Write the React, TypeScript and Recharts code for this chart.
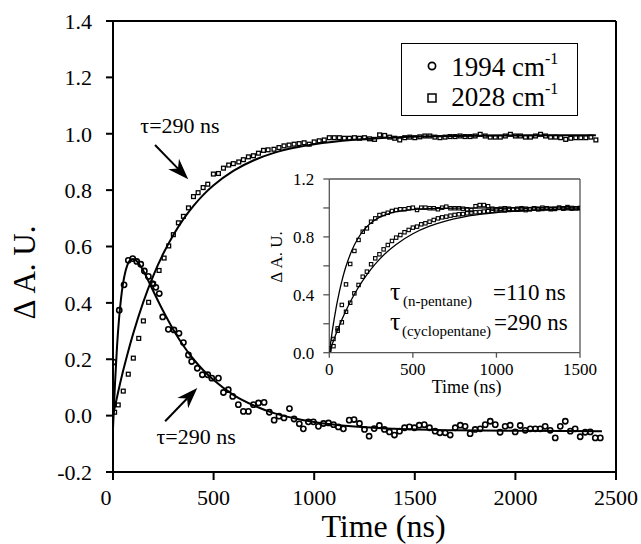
import React from 'react';
import { ComposedChart, Scatter, Line, XAxis, YAxis, ReferenceLine, ReferenceDot, Legend } from 'recharts';

const FONT = 'Liberation Serif';

// ---------- main panel data ----------
const seriesNames = ['1994', '2028'];

const circleTimes = [3, 31, 55, 76, 98, 118, 138, 156, 176, 196, 213, 230, 247, 275, 303, 328, 350, 375, 391, 419, 444, 471, 491, 524, 549, 573, 595, 623, 648, 673, 698, 723, 751, 777, 801, 825, 850, 877, 900, 926, 946, 971, 996, 1021, 1046, 1071, 1096, 1120, 1145, 1174, 1198, 1225, 1250, 1273, 1298, 1324, 1349, 1374, 1399, 1424, 1449, 1473, 1498, 1522, 1547, 1573, 1601, 1625, 1651, 1676, 1701, 1726, 1750, 1775, 1800, 1825, 1850, 1875, 1900, 1924, 1949, 1974, 1999, 2024, 2049, 2074, 2099, 2123, 2148, 2173, 2198, 2223, 2248, 2273, 2297, 2322, 2347, 2372, 2397, 2422];
const circleValues = [0.19, 0.374, 0.464, 0.551, 0.557, 0.547, 0.537, 0.513, 0.494, 0.468, 0.455, 0.433, 0.35, 0.306, 0.304, 0.292, 0.259, 0.215, 0.192, 0.168, 0.145, 0.145, 0.133, 0.133, 0.082, 0.092, 0.068, 0.039, 0.015, 0.015, 0.039, 0.045, 0.047, 0.012, -0.016, -0.002, -0.008, 0.025, -0.012, -0.029, -0.047, -0.022, -0.022, -0.038, -0.028, -0.026, -0.032, -0.04, -0.047, -0.016, -0.014, -0.028, -0.049, -0.073, -0.046, -0.035, -0.049, -0.058, -0.069, -0.055, -0.043, -0.04, -0.043, -0.034, -0.032, -0.043, -0.055, -0.061, -0.061, -0.069, -0.043, -0.034, -0.038, -0.064, -0.049, -0.047, -0.032, -0.02, -0.032, -0.059, -0.038, -0.034, -0.058, -0.035, -0.052, -0.047, -0.047, -0.047, -0.038, -0.052, -0.079, -0.038, -0.02, -0.055, -0.047, -0.075, -0.059, -0.058, -0.079, -0.079];

const squareTimes = [8, 26, 51, 76, 101, 128, 151, 177, 202, 229, 254, 277, 300, 325, 350, 375, 400, 423, 448, 471, 499, 524, 549, 575, 598, 625, 648, 673, 698, 723, 748, 771, 800, 825, 850, 875, 900, 925, 950, 975, 1000, 1025, 1050, 1075, 1100, 1125, 1150, 1175, 1200, 1225, 1250, 1275, 1300, 1325, 1350, 1375, 1400, 1425, 1450, 1475, 1500, 1525, 1550, 1575, 1600, 1625, 1650, 1675, 1700, 1725, 1750, 1775, 1800, 1825, 1850, 1875, 1900, 1925, 1950, 1975, 2000, 2025, 2050, 2075, 2100, 2125, 2150, 2175, 2200, 2225, 2250, 2275, 2300, 2325, 2350, 2375, 2400];
const squareValues = [0.012, 0.038, 0.087, 0.147, 0.204, 0.274, 0.336, 0.402, 0.467, 0.515, 0.559, 0.602, 0.642, 0.684, 0.707, 0.737, 0.777, 0.791, 0.809, 0.821, 0.857, 0.859, 0.878, 0.889, 0.894, 0.9, 0.908, 0.918, 0.922, 0.931, 0.941, 0.943, 0.945, 0.951, 0.957, 0.96, 0.963, 0.965, 0.968, 0.963, 0.971, 0.975, 0.978, 0.986, 0.986, 0.986, 0.984, 0.984, 0.986, 0.984, 0.986, 0.982, 0.98, 0.996, 0.994, 0.988, 0.984, 0.978, 0.986, 0.988, 0.986, 0.989, 0.992, 0.992, 0.988, 0.986, 0.988, 0.99, 0.99, 0.992, 0.99, 0.99, 0.992, 0.998, 0.992, 0.988, 0.988, 0.988, 0.992, 0.998, 0.992, 0.992, 0.988, 0.988, 0.992, 0.998, 0.992, 0.988, 0.988, 0.986, 0.98, 0.984, 0.986, 0.986, 0.986, 0.988, 0.978];

const circleFitTimes = [0, 10, 20, 30, 40, 50, 60, 70, 80, 90, 100, 120, 140, 160, 180, 200, 250, 300, 350, 400, 450, 500, 600, 700, 800, 900, 1000, 1200, 1400, 1700, 2000, 2430];
const circleFitValues = [-0.045, 0.115, 0.245, 0.343, 0.416, 0.469, 0.506, 0.531, 0.547, 0.554, 0.556, 0.547, 0.527, 0.501, 0.472, 0.442, 0.37, 0.305, 0.248, 0.2, 0.16, 0.126, 0.073, 0.036, 0.009, -0.009, -0.023, -0.039, -0.047, -0.052, -0.054, -0.055];

const squareFitTimes = [0, 25, 50, 75, 100, 150, 200, 250, 300, 350, 400, 450, 500, 600, 700, 800, 900, 1000, 1200, 1400, 1600, 2000, 2400];
const squareFitValues = [0, 0.082, 0.158, 0.227, 0.29, 0.402, 0.496, 0.575, 0.641, 0.697, 0.744, 0.784, 0.817, 0.869, 0.906, 0.932, 0.95, 0.963, 0.979, 0.987, 0.991, 0.994, 0.995];

const mainXTicks = [0, 500, 1000, 1500, 2000, 2500];
const mainYTicks = [-0.2, 0, 0.2, 0.4, 0.6, 0.8, 1.0, 1.2, 1.4];

// ---------- inset data ----------
const insetTimes = [0, 25, 50, 75, 100, 125, 150, 175, 200, 225, 250, 275, 300, 325, 350, 375, 400, 425, 450, 475, 500, 525, 550, 575, 600, 625, 650, 675, 700, 725, 750, 775, 800, 825, 850, 875, 900, 925, 950, 975, 1000, 1025, 1050, 1075, 1100, 1125, 1150, 1175, 1200, 1225, 1250, 1275, 1300, 1325, 1350, 1375, 1400, 1425, 1450, 1475, 1500];
const nPentaneValues = [0.02, 0.045, 0.168, 0.33, 0.472, 0.613, 0.703, 0.779, 0.836, 0.859, 0.905, 0.928, 0.951, 0.958, 0.967, 0.979, 0.986, 0.991, 0.991, 0.998, 1.002, 0.986, 1.002, 1.002, 0.998, 0.998, 0.991, 1.002, 1.009, 0.998, 0.998, 0.998, 0.995, 0.991, 0.986, 1.012, 1.02, 1.02, 1.012, 0.995, 0.991, 0.995, 0.998, 0.995, 0.991, 0.995, 0.998, 0.995, 0.991, 0.998, 0.995, 1.002, 0.998, 0.991, 0.995, 1.002, 0.998, 1.006, 0.995, 0.998, 1.0];
const cyclopentaneValues = [0.03, 0.095, 0.152, 0.21, 0.283, 0.345, 0.41, 0.468, 0.525, 0.56, 0.611, 0.652, 0.68, 0.714, 0.744, 0.772, 0.795, 0.813, 0.832, 0.848, 0.864, 0.871, 0.887, 0.894, 0.905, 0.917, 0.928, 0.935, 0.94, 0.947, 0.952, 0.956, 0.958, 0.963, 0.968, 0.97, 0.972, 0.975, 0.978, 0.98, 0.982, 0.985, 0.983, 0.987, 0.99, 0.988, 0.99, 0.985, 0.992, 0.995, 0.99, 0.993, 0.998, 0.995, 0.993, 1.0, 0.995, 0.998, 1.0, 0.998, 0.998];

const nPentaneFitTimes = [0, 10, 20, 30, 40, 50, 60, 75, 90, 100, 125, 150, 175, 200, 250, 300, 350, 400, 500, 600, 800, 1000, 1500];
const nPentaneFitValues = [0, 0.087, 0.166, 0.239, 0.305, 0.365, 0.42, 0.494, 0.559, 0.597, 0.679, 0.744, 0.796, 0.838, 0.897, 0.935, 0.958, 0.974, 0.989, 0.996, 0.999, 1.0, 1.0];
const cycloFitTimes = [0, 25, 50, 75, 100, 150, 200, 250, 300, 350, 400, 500, 600, 700, 800, 900, 1000, 1200, 1500];
const cycloFitValues = [0, 0.083, 0.158, 0.228, 0.292, 0.404, 0.498, 0.578, 0.645, 0.701, 0.748, 0.822, 0.874, 0.911, 0.937, 0.955, 0.968, 0.984, 0.994];

const insetXTicks = [0, 500, 1000, 1500];
const insetYTicks = [0, 0.2, 0.4, 0.6, 0.8, 1.0, 1.2];

const toPts = (ts: number[], vs: number[]) => ts.map((t, i) => ({ t, v: vs[i] }));

const circles = toPts(circleTimes, circleValues);
const squares = toPts(squareTimes, squareValues);
const circleFit = toPts(circleFitTimes, circleFitValues);
const squareFit = toPts(squareFitTimes, squareFitValues);
const nPentane = toPts(insetTimes, nPentaneValues);
const cyclopentane = toPts(insetTimes, cyclopentaneValues);
const nPentaneFit = toPts(nPentaneFitTimes, nPentaneFitValues);
const cycloFit = toPts(cycloFitTimes, cycloFitValues);

// ---------- marks ----------
const CircleMark = (p: any) => (
  <circle cx={p.cx} cy={p.cy} r={2.6} fill="none" stroke="#000" strokeWidth={1.6} />
);
const SquareMark = (p: any) => (
  <rect x={p.cx - 1.9} y={p.cy - 1.9} width={3.8} height={3.8} fill="none" stroke="#000" strokeWidth={1.3} />
);
const SmallSquare = (p: any) => (
  <rect x={p.cx - 1.7} y={p.cy - 1.7} width={3.4} height={3.4} fill="none" stroke="#000" strokeWidth={1.1} />
);

const ArrowShape = (p: any) => {
  const { x1, y1, x2, y2 } = p;
  const dx = x2 - x1;
  const dy = y2 - y1;
  const len = Math.hypot(dx, dy) || 1;
  const ux = dx / len;
  const uy = dy / len;
  const hl = 21;
  const hw = 7.5;
  const bx = x2 - ux * hl;
  const by = y2 - uy * hl;
  const nx = x2 - ux * hl * 0.7;
  const ny = y2 - uy * hl * 0.7;
  return (
    <g>
      <line x1={x1} y1={y1} x2={nx} y2={ny} stroke="#000" strokeWidth={2} />
      <polygon
        points={`${x2},${y2} ${bx - uy * hw},${by + ux * hw} ${nx},${ny} ${bx + uy * hw},${by - ux * hw}`}
        fill="#000"
      />
    </g>
  );
};

const T = (props: any) => <text fontFamily={FONT} fill="#000" {...props} />;

const tauText = (p: any) => {
  const vb = p.viewBox || {};
  const x = vb.x + (vb.width || 0) / 2;
  const y = vb.y + (vb.height || 0) / 2;
  return (
    <T x={x} y={y} textAnchor="middle" fontSize={22}>
      τ=290 ns
    </T>
  );
};

const InsetNote = (p: any) => {
  const vb = p.viewBox || {};
  const x = vb.x + (vb.width || 0) / 2;
  const y = vb.y + (vb.height || 0) / 2;
  return (
    <g>
      <T x={x} y={y} fontSize={26}>τ</T>
      <T x={x + 13} y={y + 6} fontSize={15}>(n-pentane)</T>
      <T x={x + 103} y={y} fontSize={23}>=110 ns</T>
      <T x={x} y={y + 30} fontSize={26}>τ</T>
      <T x={x + 12} y={y + 36} fontSize={15}>(cyclopentane)</T>
      <T x={x + 104} y={y + 30} fontSize={23}>=290 ns</T>
    </g>
  );
};

const MainXTick = (p: any) => {
  const v = p.payload?.value;
  return (
    <T x={p.x + (v === 0 ? -7 : 0)} y={p.y} dy="0.71em" textAnchor="middle" fontSize={22}>
      {v}
    </T>
  );
};

const MainYTick = (p: any) => {
  const v = p.payload?.value as number;
  return (
    <T x={p.x} y={p.y} dy="0.355em" textAnchor="end" fontSize={22}>
      {v.toFixed(1)}
    </T>
  );
};

const InsetXTick = (p: any) => {
  const v = p.payload?.value;
  return (
    <T x={p.x} y={p.y} dy="0.71em" textAnchor="middle" fontSize={17}>
      {v}
    </T>
  );
};

const InsetYTick = (p: any) => {
  const v = p.payload?.value as number;
  const show = Math.round(v * 10) % 4 === 0;
  return (
    <T x={p.x} y={p.y} dy="0.355em" textAnchor="end" fontSize={17}>
      {show ? v.toFixed(1) : ''}
    </T>
  );
};

const MainYLabel = (p: any) => {
  const vb = p.viewBox || {};
  const x = vb.x - 18;
  const y = vb.y + vb.height / 2 + 26;
  return (
    <T x={x} y={y} transform={`rotate(-90 ${x} ${y})`} textAnchor="middle" fontSize={31}>
      Δ A. U.
    </T>
  );
};

const MainXLabel = (p: any) => {
  const vb = p.viewBox || {};
  return (
    <T x={vb.x + vb.width / 2 + 19} y={vb.y + 65} textAnchor="middle" fontSize={32}>
      Time (ns)
    </T>
  );
};

const InsetYLabel = (p: any) => {
  const vb = p.viewBox || {};
  const x = vb.x - 7;
  const y = vb.y + 78;
  return (
    <T x={x} y={y} transform={`rotate(-90 ${x} ${y})`} textAnchor="middle" fontSize={17}>
      Δ A. U.
    </T>
  );
};

const InsetXLabel = (p: any) => {
  const vb = p.viewBox || {};
  return (
    <T x={vb.x + vb.width / 2 + 12} y={vb.y + 40} textAnchor="middle" fontSize={18}>
      Time (ns)
    </T>
  );
};

const LegendBox = () => (
  <div
    style={{
      position: 'relative',
      width: 177,
      height: 73,
      border: '1.3px solid #000',
      boxSizing: 'border-box',
      background: '#fff',
      fontFamily: FONT,
      color: '#000',
    }}
  >
    {seriesNames.map((name, i) => (
      <React.Fragment key={name}>
        <svg style={{ position: 'absolute', left: 24, top: 16 + i * 32 }} width={12} height={12}>
          {i === 0 ? (
            <circle cx={6} cy={6} r={3.6} fill="none" stroke="#000" strokeWidth={1.7} />
          ) : (
            <rect x={2} y={2} width={8} height={8} fill="none" stroke="#000" strokeWidth={1.5} />
          )}
        </svg>
        <div
          style={{
            position: 'absolute',
            left: 49.5,
            top: 8 + i * 30,
            fontSize: 27,
            lineHeight: '30px',
            whiteSpace: 'nowrap',
            fontFamily: FONT,
          }}
        >
          {name} cm<span style={{ position: 'relative', top: -12, fontSize: 16 }}>-1</span>
        </div>
      </React.Fragment>
    ))}
  </div>
);

const axisBlack = { stroke: '#000', strokeWidth: 2 };
const axisGrey = { stroke: '#555', strokeWidth: 1.3 };

export default function App() {
  return (
    <div style={{ position: 'absolute', left: 0, top: 0, width: 641, height: 544, background: '#fff', fontFamily: FONT }}>
      <div style={{ position: 'absolute', left: 0, top: 0 }}>
        <ComposedChart width={641} height={544} margin={{ top: 21, right: 25, bottom: 32, left: 53 }} style={{ fontFamily: FONT }}>
          <XAxis
            type="number"
            dataKey="t"
            domain={[0, 2500]}
            ticks={mainXTicks}
            interval={0}
            allowDataOverflow
            height={40}
            tickSize={8}
            tickMargin={9}
            axisLine={axisBlack}
            tickLine={axisBlack}
            tick={<MainXTick />}
            label={MainXLabel}
          />
          <YAxis
            type="number"
            dataKey="v"
            domain={[-0.2, 1.4]}
            ticks={mainYTicks}
            interval={0}
            allowDataOverflow
            width={60}
            tickSize={7}
            tickMargin={14}
            axisLine={axisBlack}
            tickLine={axisBlack}
            tick={<MainYTick />}
            label={MainYLabel}
          />
          <ReferenceLine y={1.4} stroke="#000" strokeWidth={2} />
          <ReferenceLine x={2500} stroke="#000" strokeWidth={2} />
          <Line data={squareFit} dataKey="v" type="monotone" stroke="#000" strokeWidth={2} dot={false} activeDot={false} isAnimationActive={false} legendType="none" />
          <Line data={circleFit} dataKey="v" type="monotone" stroke="#000" strokeWidth={2} dot={false} activeDot={false} isAnimationActive={false} legendType="none" />
          <Scatter name="1994 cm-1" data={circles} shape={CircleMark} isAnimationActive={false} />
          <Scatter name="2028 cm-1" data={squares} shape={SquareMark} isAnimationActive={false} />
          <ReferenceLine segment={[{ x: 209, y: 0.96 }, { x: 374, y: 0.839 }]} shape={ArrowShape} />
          <ReferenceLine segment={[{ x: 259, y: -0.02 }, { x: 419, y: 0.098 }]} shape={ArrowShape} />
          <ReferenceDot x={333} y={1.0025} r={0} fill="none" stroke="none" label={tauText} />
          <ReferenceDot x={413} y={-0.102} r={0} fill="none" stroke="none" label={tauText} />
          <Legend
            layout="vertical"
            align="center"
            verticalAlign="middle"
            content={<LegendBox />}
            wrapperStyle={{ left: 400.7, top: 42.7, width: 177, height: 73 }}
          />
        </ComposedChart>
      </div>
      <div style={{ position: 'absolute', left: 0, top: 0 }}>
        <ComposedChart width={641} height={544} margin={{ top: 179, right: 61, bottom: 151.3, left: 289.3 }} style={{ fontFamily: FONT }}>
          <XAxis
            type="number"
            dataKey="t"
            domain={[0, 1500]}
            ticks={insetXTicks}
            interval={0}
            allowDataOverflow
            height={40}
            tickSize={5}
            tickMargin={5}
            axisLine={axisGrey}
            tickLine={axisGrey}
            tick={<InsetXTick />}
            label={InsetXLabel}
          />
          <YAxis
            type="number"
            dataKey="v"
            domain={[0, 1.2]}
            ticks={insetYTicks}
            interval={0}
            allowDataOverflow
            width={40}
            tickSize={6}
            tickMargin={9}
            axisLine={axisGrey}
            tickLine={axisGrey}
            tick={<InsetYTick />}
            label={InsetYLabel}
          />
          <ReferenceLine y={1.2} stroke="#555" strokeWidth={1.3} />
          <ReferenceLine x={1500} stroke="#555" strokeWidth={1.3} />
          <Line data={nPentaneFit} dataKey="v" type="monotone" stroke="#000" strokeWidth={1.3} dot={false} activeDot={false} isAnimationActive={false} />
          <Line data={cycloFit} dataKey="v" type="monotone" stroke="#000" strokeWidth={1.3} dot={false} activeDot={false} isAnimationActive={false} />
          <Scatter data={nPentane} shape={SmallSquare} isAnimationActive={false} />
          <Scatter data={cyclopentane} shape={SmallSquare} isAnimationActive={false} />
          <ReferenceDot x={363} y={0.364} r={0} fill="none" stroke="none" label={InsetNote} />
        </ComposedChart>
      </div>
    </div>
  );
}
